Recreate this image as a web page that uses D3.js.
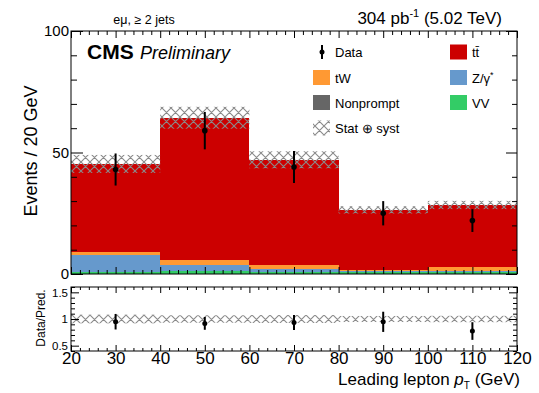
<!DOCTYPE html>
<meta charset="utf-8">
<style>
body { margin: 0; background: #fff; }
text { font-family: "Liberation Sans", Arial, sans-serif; fill: #000; }
.frame { fill: none; stroke: #000; stroke-width: 1; }
.tick line { stroke: #000; }
.domain { display: none; }
.bars rect { shape-rendering: crispEdges; }
</style>
<svg width="539" height="393"></svg>
<script src="https://cdn.jsdelivr.net/npm/d3@7"></script>
<script>

// bins in leading lepton pT (GeV)
var binEdges = [20, 40, 60, 80, 100, 120];
var binCenters = [30, 50, 70, 90, 110];

// stacked predictions, bottom to top
var vv        = [0.8, 1.2, 0.9, 0.9, 0.9];
var nonprompt = [0.2, 0.2, 0.1, 0.1, 0.1];
var zgamma    = [6.9, 2.3, 0.9, 0.1, 0.2];
var tw        = [1.3, 2.1, 1.9, 0.7, 1.6];
var ttbar     = [36.1, 58.5, 43.2, 24.6, 25.6];
var statSyst  = [3.7, 4.5, 3.5, 1.5, 1.7];

// observed
var data    = [43, 59, 44, 25, 22];
var dataErr = [6.6, 7.7, 6.6, 5.0, 4.7];

var keys = ["vv", "nonprompt", "zgamma", "tw", "ttbar"];
var colors = {vv: "#33cc66", nonprompt: "#666666", zgamma: "#6699cc", tw: "#ff9933", ttbar: "#cc0000"};

var rows = binCenters.map(function(c, i) {
  return {i: i, lo: binEdges[i], hi: binEdges[i + 1], vv: vv[i], nonprompt: nonprompt[i],
          zgamma: zgamma[i], tw: tw[i], ttbar: ttbar[i]};
});
var totals = rows.map(function(r) { return keys.reduce(function(s, k) { return s + r[k]; }, 0); });

var svg = d3.select("svg");

var L = 71, R = 517, mainTop = 31, mainBot = 274, ratTop = 287, ratBot = 351;

var x = d3.scaleLinear().domain([20, 120]).range([L, R]);
var y = d3.scaleLinear().domain([0, 100]).range([mainBot, mainTop]);
var yr = d3.scaleLinear().domain([0.4, 1.6]).range([ratBot, ratTop]);

var defs = svg.append("defs");
var pat = defs.append("pattern").attr("id", "hatch").attr("patternUnits", "userSpaceOnUse")
  .attr("width", 9).attr("height", 9);
pat.append("path").attr("d", "M0,0L9,9M9,0L0,9M-1,8L1,10M8,-1L10,1")
  .attr("stroke", "#8a8a8a").attr("stroke-width", 1.1).attr("fill", "none");

// stacked bars
var stack = d3.stack().keys(keys)(rows);
svg.append("g").attr("class", "bars").selectAll("g").data(stack).enter().append("g")
  .attr("fill", function(d) { return colors[d.key]; })
  .selectAll("rect").data(function(d) { return d; }).enter().append("rect")
  .attr("x", function(d) { return x(d.data.lo); })
  .attr("width", function(d) { return x(d.data.hi) - x(d.data.lo); })
  .attr("y", function(d) { return y(d[1]); })
  .attr("height", function(d) { return y(d[0]) - y(d[1]); });

// uncertainty band
svg.append("g").selectAll("rect").data(rows).enter().append("rect")
  .attr("x", function(d) { return x(d.lo); })
  .attr("width", function(d) { return x(d.hi) - x(d.lo); })
  .attr("y", function(d) { return y(totals[d.i] + statSyst[d.i]); })
  .attr("height", function(d) { return y(totals[d.i] - statSyst[d.i]) - y(totals[d.i] + statSyst[d.i]); })
  .attr("fill", "url(#hatch)");

// ratio band
svg.append("g").selectAll("rect").data(rows).enter().append("rect")
  .attr("x", function(d) { return x(d.lo); })
  .attr("width", function(d) { return x(d.hi) - x(d.lo); })
  .attr("y", function(d) { return yr(1 + statSyst[d.i] / totals[d.i]); })
  .attr("height", function(d) { return yr(1 - statSyst[d.i] / totals[d.i]) - yr(1 + statSyst[d.i] / totals[d.i]); })
  .attr("fill", "url(#hatch)");

// axes helpers
var xMinor = d3.range(20, 121, 2).filter(function(v) { return v % 10 != 0; });
var xMajor = d3.range(20, 121, 10);

function axisPair(gen, scale, minorVals, majorVals, minorLen, majorLen, tr, fmt, size, pad) {
  svg.append("g").attr("transform", tr)
    .call(gen(scale).tickValues(minorVals).tickSize(-minorLen).tickFormat(""));
  var g = svg.append("g").attr("transform", tr)
    .call(gen(scale).tickValues(majorVals).tickSize(-majorLen).tickPadding(pad)
      .tickFormat(fmt || ""));
  g.selectAll("text").style("font-size", size + "px").attr("fill", "#000");
  return g;
}

// main pad axes
axisPair(d3.axisBottom, x, xMinor, xMajor, 4, 7, "translate(0," + mainBot + ")", null, 0, 0);
axisPair(d3.axisTop, x, xMinor, xMajor, 4, 7, "translate(0," + mainTop + ")", null, 0, 0);
var yMinor = d3.range(0, 101, 10).filter(function(v) { return v % 50 != 0; });
var yMajor = [0, 50, 100];
axisPair(d3.axisLeft, y, yMinor, yMajor, 6, 12, "translate(" + L + ",0)", d3.format("d"), 15, 2);
axisPair(d3.axisRight, y, yMinor, yMajor, 5, 11, "translate(" + R + ",0)", null, 0, 0);

// ratio pad axes
axisPair(d3.axisBottom, x, xMinor, xMajor, 3, 6, "translate(0," + ratBot + ")", d3.format("d"), 17, 1);
axisPair(d3.axisTop, x, xMinor, xMajor, 3, 6, "translate(0," + ratTop + ")", null, 0, 0);
var rMinor = d3.range(4, 17).map(function(v) { return v / 10; }).filter(function(v) { return Math.round(v * 10) % 5 != 0; });
var rMajor = [0.5, 1, 1.5];
axisPair(d3.axisLeft, yr, rMinor, rMajor, 4, 8, "translate(" + L + ",0)", function(d) { return d; }, 11.5, 3);
axisPair(d3.axisRight, yr, rMinor, rMajor, 4, 8, "translate(" + R + ",0)", null, 0, 0);

svg.append("rect").attr("class", "frame").attr("x", L).attr("y", mainTop)
  .attr("width", R - L).attr("height", mainBot - mainTop);
svg.append("rect").attr("class", "frame").attr("x", L).attr("y", ratTop)
  .attr("width", R - L).attr("height", ratBot - ratTop);

// data points
var pts = svg.append("g");
pts.selectAll("line").data(rows).enter().append("line")
  .attr("x1", function(d) { return x(binCenters[d.i]); })
  .attr("x2", function(d) { return x(binCenters[d.i]); })
  .attr("y1", function(d) { return y(data[d.i] + dataErr[d.i]); })
  .attr("y2", function(d) { return y(data[d.i] - dataErr[d.i]); })
  .attr("stroke", "#000").attr("stroke-width", 2);
pts.selectAll("circle").data(rows).enter().append("circle")
  .attr("cx", function(d) { return x(binCenters[d.i]); })
  .attr("cy", function(d) { return y(data[d.i]); })
  .attr("r", 2.8).attr("fill", "#000");

var rpts = svg.append("g");
rpts.selectAll("line").data(rows).enter().append("line")
  .attr("x1", function(d) { return x(binCenters[d.i]); })
  .attr("x2", function(d) { return x(binCenters[d.i]); })
  .attr("y1", function(d) { return yr((data[d.i] + dataErr[d.i]) / totals[d.i]); })
  .attr("y2", function(d) { return yr((data[d.i] - dataErr[d.i]) / totals[d.i]); })
  .attr("stroke", "#000").attr("stroke-width", 2);
rpts.selectAll("circle").data(rows).enter().append("circle")
  .attr("cx", function(d) { return x(binCenters[d.i]); })
  .attr("cy", function(d) { return yr(data[d.i] / totals[d.i]); })
  .attr("r", 2.5).attr("fill", "#000");

// legend
var leg = svg.append("g").style("font-size", "13px");
var rowY = [52, 77.5, 102.5, 128];
leg.append("line").attr("x1", 322).attr("x2", 322).attr("y1", rowY[0] - 7).attr("y2", rowY[0] + 7)
  .attr("stroke", "#000").attr("stroke-width", 2);
leg.append("circle").attr("cx", 322).attr("cy", rowY[0]).attr("r", 2.5);
leg.append("text").attr("x", 335).attr("y", rowY[0] + 5).text("Data");

function box(bx, by, fill, label) {
  leg.append("rect").attr("x", bx).attr("y", by - 7.5).attr("width", 17).attr("height", 15).attr("fill", fill);
  return leg.append("text").attr("x", bx + 22).attr("y", by + 5).text(label);
}
box(313, rowY[1], colors.tw, "tW");
box(313, rowY[2], colors.nonprompt, "Nonprompt");
box(313, rowY[3], "url(#hatch)", "Stat \u2295 syst");
box(450, rowY[0], colors.ttbar, "tt\u0304");
var zt = box(450, rowY[1], colors.zgamma, "Z/\u03b3");
zt.append("tspan").attr("dy", -5).style("font-size", "9px").text("*");
box(450, rowY[2], colors.vv, "VV");

// header texts
svg.append("text").attr("x", 144).attr("y", 24).attr("text-anchor", "middle")
  .style("font-size", "12.5px").text("e\u03bc, \u2265 2 jets");
var lumi = svg.append("text").attr("x", 502).attr("y", 24).attr("text-anchor", "end").style("font-size", "17px");
lumi.append("tspan").text("304 pb");
lumi.append("tspan").attr("dy", -7).style("font-size", "11px").text("-1");
lumi.append("tspan").attr("dy", 7).text(" (5.02 TeV)");

svg.append("text").attr("x", 87).attr("y", 59).style("font-size", "21px").style("font-weight", "bold").text("CMS");
svg.append("text").attr("x", 140).attr("y", 59).style("font-size", "18px").style("font-style", "italic").text("Preliminary");

svg.append("text").attr("transform", "translate(37,151) rotate(-90)").attr("text-anchor", "middle")
  .style("font-size", "18px").text("Events / 20 GeV");
svg.append("text").attr("transform", "translate(45,318) rotate(-90)").attr("text-anchor", "middle")
  .style("font-size", "12px").text("Data/Pred.");

var xt = svg.append("text").attr("x", 520).attr("y", 385).attr("text-anchor", "end").style("font-size", "17px");
xt.append("tspan").text("Leading lepton ");
xt.append("tspan").style("font-style", "italic").text("p");
xt.append("tspan").attr("dy", 4).style("font-size", "10px").text("T");
xt.append("tspan").attr("dy", -4).text(" (GeV)");

</script>
